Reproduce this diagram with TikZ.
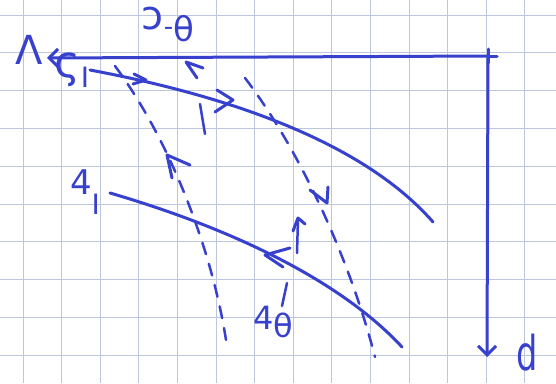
\documentclass[tikz,border=0pt]{standalone}
\usepackage{fontspec}
\setmainfont{DejaVu Sans}
\usetikzlibrary{arrows.meta}
\definecolor{ink}{RGB}{55,65,205}
\definecolor{gridc}{RGB}{188,198,222}
\tikzset{
  axis/.style={ink,line width=3pt,line cap=round},
  curve/.style={ink,line width=3pt,line cap=round},
  dline/.style={ink,line width=2.5pt,line cap=round,dash pattern=on 12pt off 10pt},
  chev/.style={ink,line width=3pt,line cap=round,line join=round},
  lbl/.style={ink,inner sep=0pt,anchor=center},
  barb/.style={-{Straight Barb[length=9pt,width=18pt,line width=3pt]}}
}
\begin{document}
\begin{tikzpicture}[x=1pt,y=-1pt]
\useasboundingbox (0,0) rectangle (556,383);
\fill[white] (0,0) rectangle (556,383);
% grid paper
\foreach \i in {0,...,13} \draw[gridc,line width=1pt] ({23+38.6*\i},0) -- ++(0,383);
\foreach \j in {0,...,9} \draw[gridc,line width=1pt] (0,{15+37.8*\j}) -- ++(556,0);

% axes
\coordinate (O) at (488,56);
\coordinate (xend) at (47,58);
\coordinate (yend) at (487,357);
\coordinate (xtick) at (497,56);
\draw[axis,barb] (O) -- (xend);
\draw[axis] (O) -- (xtick);
\draw[axis] (488,49) -- (488,63);
\draw[axis,barb] (O) -- (yend);

% labels
\node[lbl,font=\fontsize{40}{40}\selectfont] (lam) at (29,50) {Λ};
\node[lbl,anchor=base,font=\fontsize{48}{48}\selectfont,xscale=0.7] (dd) at (527,370) {d};
\node[lbl,font=\fontsize{44}{44}\selectfont] (s1) at (72,70) {ς\raisebox{-10pt}{\fontsize{28}{28}\selectfont I}};
\node[lbl,font=\fontsize{40}{40}\selectfont] (tt) at (168,24) {\raisebox{8pt}{ɔ}\raisebox{2pt}{\fontsize{26}{26}\selectfont -}\raisebox{-4pt}{\fontsize{34}{34}\selectfont θ}};
\node[lbl,font=\fontsize{34}{34}\selectfont] (y1) at (85,192) {4\raisebox{-20pt}{\fontsize{28}{28}\selectfont I}};
\node[lbl,font=\fontsize{32}{32}\selectfont] (y2) at (273,322) {4\raisebox{-8pt}{θ}};

% upper solid curve
\coordinate (u0) at (90,70);
\coordinate (u1) at (433,222);
\draw[curve] (u0) .. controls (250,100) and (370,150) .. (u1);
\draw[chev] (134,74) -- (146,80) -- (133,84);
\draw[chev] (217,90) -- (233,100) -- (215,112);

% lower solid curve
\coordinate (l0) at (110,193);
\coordinate (l1) at (402,347);
\draw[curve] (l0) .. controls (230,228) and (340,280) .. (l1);
\draw[chev] (290,248) -- (265,255) -- (283,267);

% dashed line A (arrow up)
\coordinate (a0) at (115,66);
\coordinate (a1) at (226,340);
\draw[dline] (a0) .. controls (170,140) and (212,250) .. (a1);
\draw[chev] (190,165) -- (167,155) -- (172,178);

% dashed line C (arrow down)
\coordinate (c0) at (245,78);
\coordinate (c1) at (375,357);
\draw[dline] (c0) .. controls (300,150) and (350,260) .. (c1);
\draw[chev] (310,190) -- (327,203) -- (328,187);

% line B, upper part
\coordinate (b0) at (205,134);
\coordinate (b1) at (200,104);
\draw[curve,line width=2.5pt] (b0) -- (b1);
\draw[chev] (203,68) -- (186,62) -- (197,78);

% line B, lower part
\coordinate (b2) at (297,253);
\coordinate (b3) at (298,219);
\draw[curve,line width=2.5pt] (b2) -- (b3);
\draw[chev] (293,231) -- (298,218) -- (305,224);
\draw[curve,line width=2.5pt] (287,283) -- (282,306);
\end{tikzpicture}
\end{document}
